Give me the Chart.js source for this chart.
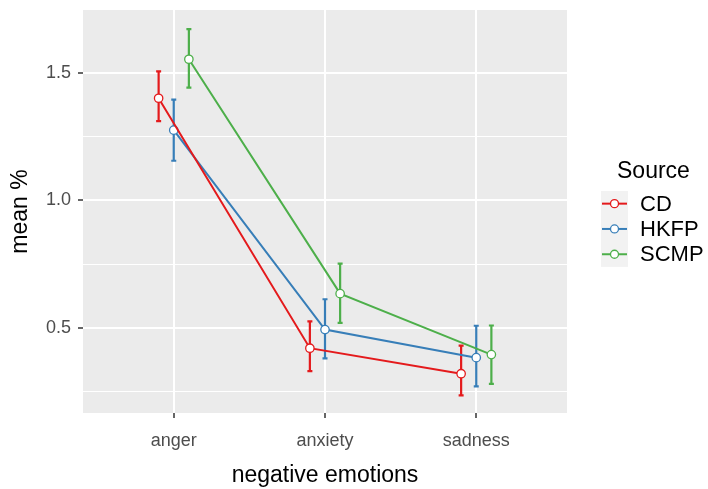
<!DOCTYPE html>
<html>
<head>
<meta charset="utf-8">
<script src="https://cdn.jsdelivr.net/npm/chart.js@4"></script>
<style>
  html, body { margin: 0; padding: 0; background: #fff; }
  #wrap { width: 708px; height: 489px; }
</style>
</head>
<body>
<div id="wrap"><canvas id="chart" width="708" height="489"></canvas></div>
<script>
// Data
const categories = ['anger', 'anxiety', 'sadness'];
const sources = ['CD', 'HKFP', 'SCMP'];
const cdMean = [1.40, 0.42, 0.32];
const cdLow = [1.31, 0.33, 0.235];
const cdHigh = [1.505, 0.525, 0.43];
const hkfpMean = [1.275, 0.493, 0.383];
const hkfpLow = [1.155, 0.38, 0.27];
const hkfpHigh = [1.395, 0.612, 0.508];
const scmpMean = [1.553, 0.634, 0.395];
const scmpLow = [1.442, 0.519, 0.28];
const scmpHigh = [1.671, 0.752, 0.509];
const yMajorTicks = [0.5, 1.0, 1.5];
const yMinorTicks = [0.25, 0.75, 1.25];

const colors = ['#E41A1C', '#377EB8', '#4DAF4A'];
const dodge = [-0.1, 0, 0.1];
const FONT = "'Liberation Sans', Arial, sans-serif";

const series = [
    { mean: cdMean, low: cdLow, high: cdHigh },
    { mean: hkfpMean, low: hkfpLow, high: hkfpHigh },
    { mean: scmpMean, low: scmpLow, high: scmpHigh }
];

const datasets = series.map((s, i) => ({
    label: sources[i],
    data: s.mean.map((v, j) => ({ x: j + 1 + dodge[i], y: v })),
    low: s.low,
    high: s.high,
    borderColor: colors[i],
    borderWidth: 2,
    pointBackgroundColor: '#fff',
    pointBorderColor: colors[i],
    pointBorderWidth: 1.3,
    pointRadius: 4.2,
    tension: 0,
    fill: false
}));

const isMajor = v => yMajorTicks.some(t => Math.abs(t - v) < 1e-6);

// grey panel
const panelBg = {
    id: 'panelBg',
    beforeDraw(chart) {
        const { ctx, chartArea: a } = chart;
        ctx.save();
        ctx.fillStyle = '#EBEBEB';
        ctx.fillRect(a.left, a.top, a.right - a.left, a.bottom - a.top);
        ctx.restore();
    }
};

// error bars
const errorBars = {
    id: 'errorBars',
    beforeDatasetsDraw(chart) {
        const { ctx, scales: { y } } = chart;
        ctx.save();
        chart.data.datasets.forEach((ds, i) => {
            const meta = chart.getDatasetMeta(i);
            ctx.strokeStyle = ds.borderColor;
            ctx.lineWidth = 2.2;
            meta.data.forEach((pt, j) => {
                const yl = y.getPixelForValue(ds.low[j]);
                const yh = y.getPixelForValue(ds.high[j]);
                ctx.beginPath();
                ctx.moveTo(pt.x, yl);
                ctx.lineTo(pt.x, yh);
                ctx.moveTo(pt.x - 2.5, yl);
                ctx.lineTo(pt.x + 2.5, yl);
                ctx.moveTo(pt.x - 2.5, yh);
                ctx.lineTo(pt.x + 2.5, yh);
                ctx.stroke();
            });
        });
        ctx.restore();
    }
};

// ggplot-style legend
const sideLegend = {
    id: 'sideLegend',
    afterDraw(chart) {
        const ctx = chart.ctx;
        ctx.save();
        ctx.fillStyle = '#000';
        ctx.font = '23px ' + FONT;
        ctx.textBaseline = 'middle';
        ctx.textAlign = 'left';
        ctx.fillText('Source', 617, 172);
        const keyX = 601, keyW = 27, rowH = 25.3, top = 191;
        ctx.fillStyle = '#F2F2F2';
        ctx.fillRect(keyX, top, keyW, rowH * sources.length);
        sources.forEach((name, i) => {
            const cy = top + rowH * i + rowH / 2;
            ctx.strokeStyle = colors[i];
            ctx.lineWidth = 2;
            ctx.beginPath();
            ctx.moveTo(keyX + 1, cy);
            ctx.lineTo(keyX + keyW - 1, cy);
            ctx.stroke();
            ctx.beginPath();
            ctx.arc(keyX + keyW / 2, cy, 4, 0, Math.PI * 2);
            ctx.fillStyle = '#fff';
            ctx.fill();
            ctx.lineWidth = 1.3;
            ctx.stroke();
            ctx.fillStyle = '#000';
            ctx.font = '22px ' + FONT;
            ctx.fillText(name, 640, cy + 1);
        });
        ctx.restore();
    }
};

new Chart(document.getElementById('chart'), {
    type: 'line',
    data: { datasets },
    options: {
        responsive: false,
        animation: false,
        layout: { padding: { left: 0, right: 141, top: 10, bottom: 0 } },
        plugins: { legend: { display: false }, tooltip: { enabled: false } },
        scales: {
            x: {
                type: 'linear',
                min: 0.4,
                max: 3.6,
                afterFit(scale) {
                    scale.height = 76;
                    scale.paddingLeft = 0;
                    scale.paddingRight = 0;
                },
                afterBuildTicks(scale) {
                    scale.ticks = categories.map((c, i) => ({ value: i + 1 }));
                },
                border: { display: false },
                grid: {
                    color: '#fff',
                    lineWidth: 2,
                    tickColor: '#333',
                    tickWidth: 1.5,
                    tickLength: 5
                },
                ticks: {
                    padding: 12,
                    color: '#4D4D4D',
                    font: { family: FONT, size: 18 },
                    autoSkip: false,
                    maxRotation: 0,
                    callback: v => categories[Math.round(v) - 1]
                },
                title: {
                    display: true,
                    text: 'negative emotions',
                    color: '#000',
                    font: { family: FONT, size: 23 },
                    padding: { top: 0, bottom: 0 }
                }
            },
            y: {
                type: 'linear',
                min: 0.166,
                max: 1.746,
                afterFit(scale) {
                    scale.width = 83;
                    scale.paddingTop = 0;
                    scale.paddingBottom = 0;
                },
                afterBuildTicks(scale) {
                    scale.ticks = [...yMinorTicks, ...yMajorTicks]
                        .sort((a, b) => a - b)
                        .map(v => ({ value: v }));
                },
                border: { display: false },
                grid: {
                    color: '#fff',
                    lineWidth: c => (isMajor(c.tick.value) ? 2 : 1),
                    tickColor: c => (isMajor(c.tick.value) ? '#333' : 'rgba(0,0,0,0)'),
                    tickWidth: 1.5,
                    tickLength: 5
                },
                ticks: {
                    padding: 7,
                    color: '#4D4D4D',
                    font: { family: FONT, size: 18 },
                    autoSkip: false,
                    callback: v => (isMajor(v) ? v.toFixed(1) : '')
                },
                title: {
                    display: true,
                    text: 'mean %',
                    color: '#000',
                    font: { family: FONT, size: 23 },
                    padding: { top: 7, bottom: 0 }
                }
            }
        }
    },
    plugins: [panelBg, errorBars, sideLegend]
});
</script>
</body>
</html>
